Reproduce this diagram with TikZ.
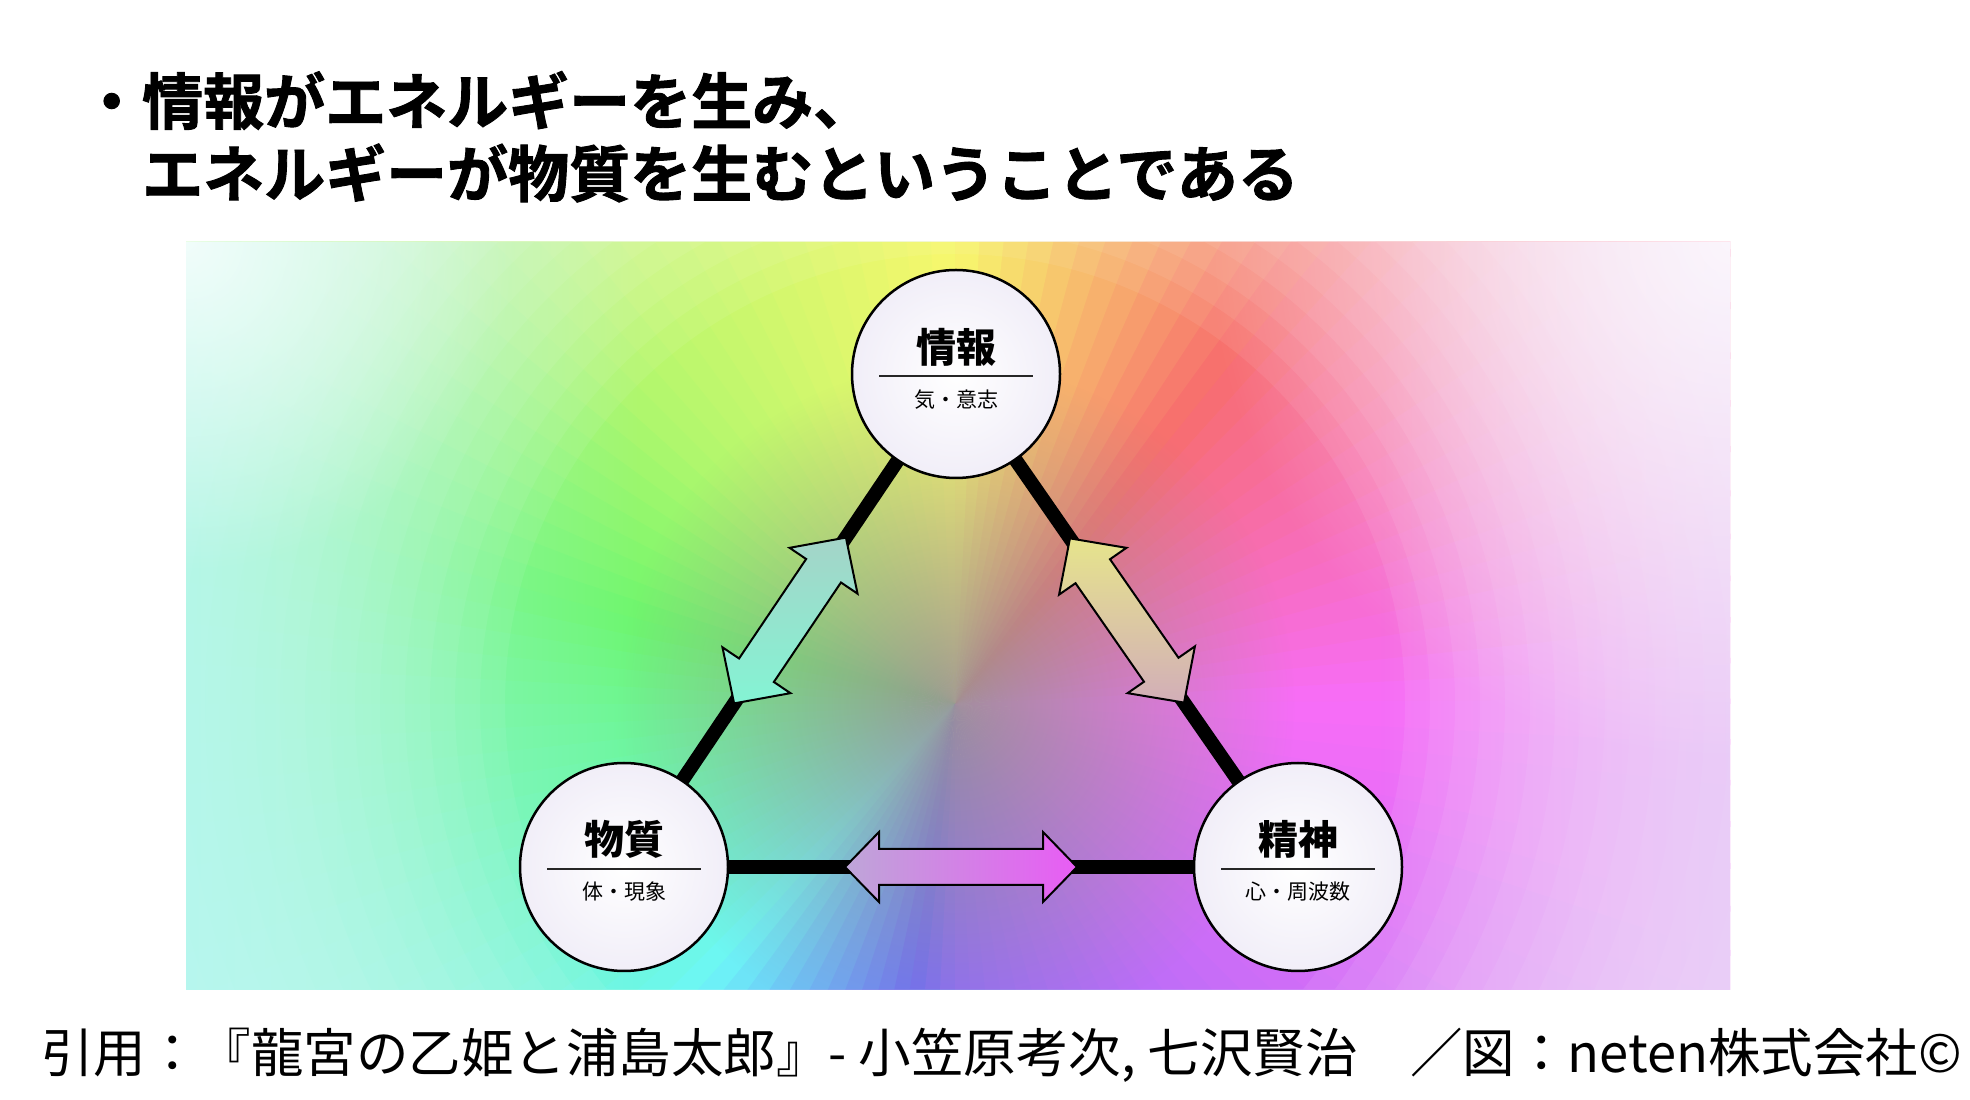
\documentclass[tikz,border=0pt]{standalone}
\usepackage{fontspec}
\setmainfont{Noto Sans CJK JP}
\newfontfamily\titlefont{Noto Sans CJK JP}[UprightFont={* Bold}, UprightFeatures={FakeBold=1.5}]
\usetikzlibrary{calc,fadings}
\pgfdeclarelayer{back}
\pgfdeclarelayer{mid}
\pgfsetlayers{back,mid,main}
\tikzfading[name=cfade, inner color=transparent!0, outer color=transparent!100]
\tikzfading[name=lfade, left color=transparent!0, right color=transparent!100]
\tikzfading[name=rfade, left color=transparent!100, right color=transparent!0]
\definecolor{circedge}{HTML}{F1EEF8}
\definecolor{cyanedge}{HTML}{B0F6F2}
\definecolor{lavedge}{HTML}{E6CFF8}
\definecolor{graycenter}{HTML}{9A9294}
\newcommand\dblarr[7]{%
  \pgfmathsetmacro\dbA{#3-#4}%
  \pgfmathsetmacro\dbP{#2+90}%
  \draw[#7] ($(#1)+(#2:#3pt)$)
   -- ($(#1)+(#2:\dbA pt)+(\dbP:#6pt)$)
   -- ($(#1)+(#2:\dbA pt)+(\dbP:#5pt)$)
   -- ($(#1)+(#2:-\dbA pt)+(\dbP:#5pt)$)
   -- ($(#1)+(#2:-\dbA pt)+(\dbP:#6pt)$)
   -- ($(#1)+(#2:-#3pt)$)
   -- ($(#1)+(#2:-\dbA pt)+(\dbP:-#6pt)$)
   -- ($(#1)+(#2:-\dbA pt)+(\dbP:-#5pt)$)
   -- ($(#1)+(#2:\dbA pt)+(\dbP:-#5pt)$)
   -- ($(#1)+(#2:\dbA pt)+(\dbP:-#6pt)$)
   -- cycle;}
\tikzset{
  circ/.style={circle, draw=black, line width=2.5pt, minimum size=208pt, inner sep=0pt, inner color=white, outer color=circedge},
  tri/.style={line width=14pt, black},
  bigname/.style={font=\fontsize{40}{40}\selectfont\bfseries, inner sep=0pt},
  subname/.style={font=\fontsize{21}{21}\selectfont, inner sep=0pt},
  sepline/.style={line width=2pt, black!85},
  titletext/.style={font=\fontsize{61}{61}\selectfont\titlefont, inner sep=0pt, anchor=west},
  foot/.style={font=\fontsize{52.5}{52.5}\selectfont, inner sep=0pt, anchor=west},
  arrbase/.style={line width=2pt, line join=miter, black}
}
\begin{document}
\begin{tikzpicture}[x=1pt,y=1pt]
\useasboundingbox (0,0) rectangle (1970,1100);

% circles
\node[circ] (info) at (956,726) {};
\node[circ] (matter) at (624,233) {};
\node[circ] (spirit) at (1298,233) {};

% background
\begin{pgfonlayer}{back}
\fill[white] (0,0) rectangle (1970,1100);
\begin{scope}
\clip (186,110) rectangle (1730,858);
\coordinate (C) at (955,396);
\foreach \a/\b/\ha/\hb in {0/45/300/350, 45/90/350/420, 90/135/420/450, 135/180/450/495, 180/225/495/535, 225/270/535/615, 270/315/615/640, 315/360/640/660}{
  \foreach \k in {0,...,14}{
    \pgfmathsetmacro\t{\a+3*\k}
    \pgfmathsetmacro\tt{\t+3.4}
    \pgfmathsetmacro\hh{mod(\ha+(\hb-\ha)*(\k+0.5)/15,360)}
    \definecolor{wc}{Hsb}{\hh,0.56,0.97}
    \fill[wc] (C) -- ($(C)+(\t:1500pt)$) -- ($(C)+(\tt:1500pt)$) -- cycle;
  }
}
\fill[graycenter, path fading=cfade, fill opacity=0.9] (C) circle (340pt);
\foreach \r in {450,475,...,900}{
  \fill[white, fill opacity=0.07, even odd rule] (186,110) rectangle (1730,858) (C) circle (\r pt);
}
\fill[cyanedge, path fading=lfade, fill opacity=0.75] (186,110) rectangle (640,858);
\fill[lavedge, path fading=rfade, fill opacity=0.7] (1380,110) rectangle (1730,858);
\fill[white, path fading=cfade, fill opacity=0.8] (186,858) circle (330pt);
\fill[white, path fading=cfade, fill opacity=0.8] (1730,858) circle (520pt);
\end{scope}
\end{pgfonlayer}

% triangle connectors
\begin{pgfonlayer}{mid}
\draw[tri] (info.center) -- (matter.center);
\draw[tri] (info.center) -- (spirit.center);
\draw[tri] (matter.center) -- (spirit.center);
\end{pgfonlayer}

% double arrows
\coordinate (mL) at ($(matter)!0.5!(info)$);
\coordinate (mR) at ($(spirit)!0.5!(info)$);
\coordinate (mB) at ($(matter)!0.5!(spirit)$);
\dblarr{mL}{56.0}{100}{40}{21}{41}{arrbase, top color={rgb,255:red,164;green,212;blue,200}, bottom color={rgb,255:red,132;green,244;blue,212}}
\dblarr{mR}{124.8}{100}{40}{21}{41}{arrbase, top color={rgb,255:red,230;green,228;blue,140}, bottom color={rgb,255:red,210;green,174;blue,184}}
\dblarr{mB}{0}{116}{34}{18}{35}{arrbase, left color={rgb,255:red,190;green,166;blue,216}, right color={rgb,255:red,232;green,92;blue,244}}

% circle texts
\node[bigname] (infoN) at ($(info.center)+(0,27)$) {情報};
\draw[sepline] ($(info.center)+(-77,-2)$) -- ($(info.center)+(77,-2)$);
\node[subname] (infoS) at ($(info.center)+(0,-26)$) {気・意志};

\node[bigname] (matterN) at ($(matter.center)+(0,28)$) {物質};
\draw[sepline] ($(matter.center)+(-77,-2)$) -- ($(matter.center)+(77,-2)$);
\node[subname] (matterS) at ($(matter.center)+(0,-25)$) {体・現象};

\node[bigname] (spiritN) at ($(spirit.center)+(0,28)$) {精神};
\draw[sepline] ($(spirit.center)+(-77,-2)$) -- ($(spirit.center)+(77,-2)$);
\node[subname] (spiritS) at ($(spirit.center)+(0,-25)$) {心・周波数};

% title
\node[titletext] (t1) at (81,999.5) {・情報がエネルギーを生み、};
\node[titletext] (t2) at (142,927) {エネルギーが物質を生むということである};

% footer
\node[foot] (ft) at (41,45) {引用：『龍宮の乙姫と浦島太郎』- 小笠原考次, 七沢賢治　／図：neten株式会社©};
\end{tikzpicture}
\end{document}
